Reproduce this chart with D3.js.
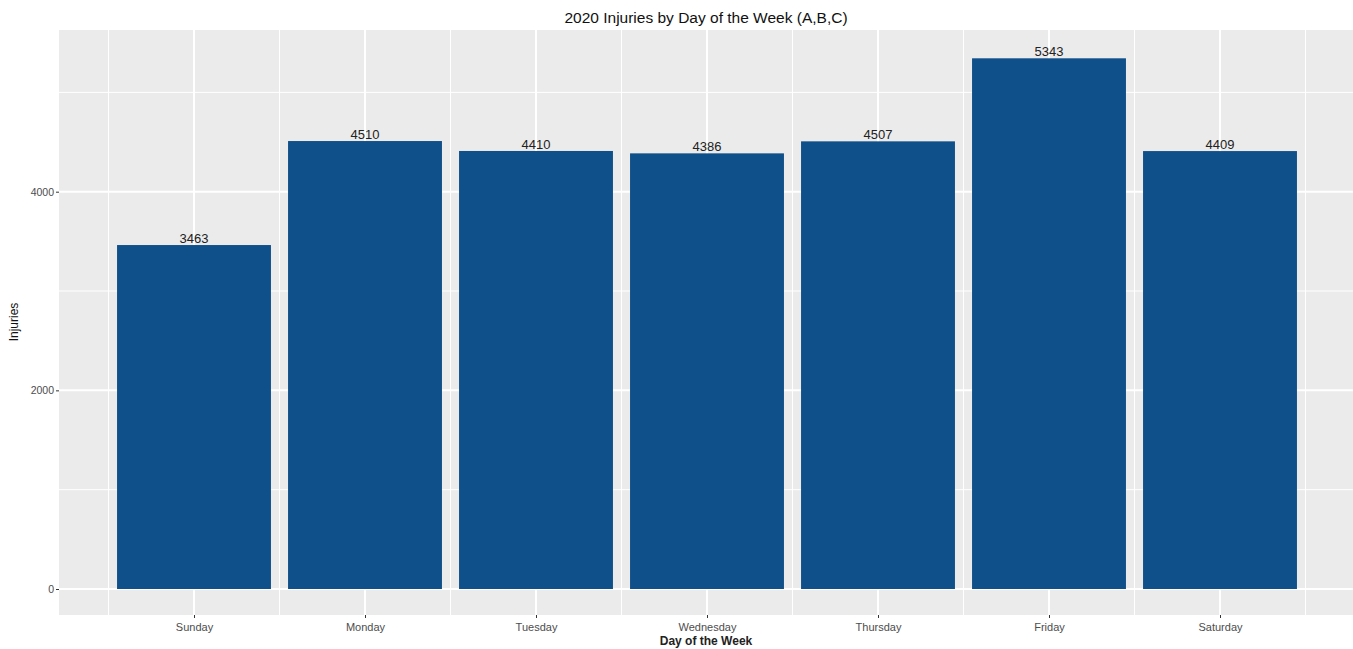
<!DOCTYPE html>
<html><head><meta charset="utf-8">
<script src="https://cdn.jsdelivr.net/npm/d3@7"></script>
<style>body{margin:0;background:#fff;} svg{display:block;font-family:"Liberation Sans",Arial,sans-serif;}</style>
</head><body><svg id="c" width="1353" height="649"></svg>
<script>
const days = ["Sunday","Monday","Tuesday","Wednesday","Thursday","Friday","Saturday"];
const injuries = [3463,4510,4410,4386,4507,5343,4409];
const yTicks = [0,2000,4000];
const yMinor = [1000,3000,5000];
const title = "2020 Injuries by Day of the Week (A,B,C)";

const svg = d3.select("#c");
const panel = {left:59, top:30, right:1355, bottom:615};
const step = 171;
const x0 = 194;
const x = d3.scalePoint().domain(days).range([x0, x0 + step*(days.length-1)]);
const y = d3.scaleLinear().domain([0,4000]).range([589,191.7]);

svg.append("rect").attr("x",panel.left).attr("y",panel.top)
  .attr("width",panel.right-panel.left).attr("height",panel.bottom-panel.top).attr("fill","#EBEBEB");

const g = svg.append("g");
yMinor.forEach(v=>g.append("line").attr("x1",panel.left).attr("x2",panel.right).attr("y1",y(v)).attr("y2",y(v)).attr("stroke","#fff").attr("stroke-width",1));
const xMinor = days.map(d=>x(d)-step/2).concat([x(days[days.length-1])+step/2]);
xMinor.forEach(v=>g.append("line").attr("y1",panel.top).attr("y2",panel.bottom).attr("x1",v).attr("x2",v).attr("stroke","#fff").attr("stroke-width",1));
yTicks.forEach(v=>g.append("line").attr("x1",panel.left).attr("x2",panel.right).attr("y1",y(v)).attr("y2",y(v)).attr("stroke","#fff").attr("stroke-width",2));
days.forEach(d=>g.append("line").attr("y1",panel.top).attr("y2",panel.bottom).attr("x1",x(d)).attr("x2",x(d)).attr("stroke","#fff").attr("stroke-width",2));

const bw = step*0.9;
svg.selectAll("rect.bar").data(days).join("rect").attr("class","bar")
  .attr("x",d=>x(d)-bw/2).attr("width",bw)
  .attr("y",(d,i)=>y(injuries[i])).attr("height",(d,i)=>y(0)-y(injuries[i]))
  .attr("fill","#0F4F8A");

svg.selectAll("text.val").data(days).join("text").attr("class","val")
  .attr("x",d=>x(d)).attr("y",(d,i)=>y(injuries[i])-2)
  .attr("text-anchor","middle").attr("font-size",13).attr("fill","#222")
  .text((d,i)=>injuries[i]);

const yAxis = d3.axisLeft(y).tickValues(yTicks).tickFormat(d3.format("d")).tickSize(3).tickPadding(2);
const ya = svg.append("g").attr("transform",`translate(${panel.left},0)`).call(yAxis);
ya.select(".domain").remove();
ya.selectAll("line").attr("stroke","#333");
ya.selectAll("text").attr("font-size",10.5).attr("fill","#4D4D4D").attr("font-family","Liberation Sans, Arial");

const xAxis = d3.axisBottom(x).tickSize(3).tickPadding(5);
const xa = svg.append("g").attr("transform",`translate(0,${panel.bottom})`).call(xAxis);
xa.select(".domain").remove();
xa.selectAll("line").attr("stroke","#333");
xa.selectAll("text").attr("font-size",11).attr("fill","#4D4D4D").attr("font-family","Liberation Sans, Arial");

svg.append("text").attr("x",706).attr("y",23).attr("text-anchor","middle").attr("font-size",15.5).attr("fill","#111").text(title);
svg.append("text").attr("x",706).attr("y",645).attr("text-anchor","middle").attr("font-size",12).attr("font-weight","bold").attr("fill","#222").text("Day of the Week");
svg.append("text").attr("transform","translate(18,322) rotate(-90)").attr("text-anchor","middle").attr("font-size",12).attr("fill","#111").text("Injuries");
</script></body></html>
